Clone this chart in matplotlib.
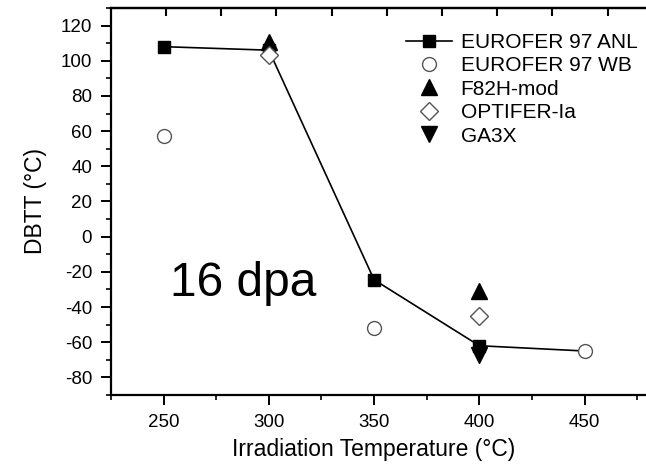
"""DBTT vs irradiation temperature at 16 dpa."""

import matplotlib
matplotlib.use("Agg")
from matplotlib import pyplot as plt
from matplotlib.ticker import MultipleLocator, FixedLocator, NullLocator
import matplotlib.transforms as mtransforms

plt.rcParams["font.family"] = ["Liberation Sans", "DejaVu Sans"]
plt.rcParams["axes.unicode_minus"] = False

# data
anl_temp = [250, 300, 350, 400, 450]
anl_dbtt = [108, 106, -24.5, -62, -65]
wb_temp = [250, 350, 450]
wb_dbtt = [57.5, -52, -65]
f82h_temp = [300, 400]
f82h_dbtt = [110.5, -31]
optifer_temp = [300, 400]
optifer_dbtt = [103, -45]
ga3x_temp = [400]
ga3x_dbtt = [-67.5]

# the top axis in the source has its own (slightly off) tick pitch
top_ticks = [251.1, 277.3, 303.4, 330.0, 356.1, 382.3, 408.4, 434.5, 461.1]

fig = plt.figure(figsize=(6.46, 4.66), dpi=100)
ax = fig.add_axes([0.1718, 0.1524, 0.896, 0.8305])

ax.plot(anl_temp, anl_dbtt, color="black", lw=1.2, marker="s", ms=8.5,
        markevery=[0, 1, 2, 3], label="EUROFER 97 ANL", zorder=3)
ax.plot(wb_temp, wb_dbtt, ls="none", marker="o", ms=10, mfc="white",
        mec="#555555", mew=1.0, label="EUROFER 97 WB", zorder=4)
ax.plot(f82h_temp, f82h_dbtt, ls="none", marker="^", ms=11, color="black",
        label="F82H-mod", zorder=3)
ax.plot(optifer_temp, optifer_dbtt, ls="none", marker="D", ms=9, mfc="white",
        mec="#555555", mew=1.0, label="OPTIFER-Ia", zorder=4)
ax.plot(ga3x_temp, ga3x_dbtt, ls="none", marker="v", ms=11, color="black",
        label="GA3X", zorder=3)

ax.set_xlim(225, 500)
ax.set_ylim(-90, 130)
ax.set_xticks([250, 300, 350, 400, 450])
ax.xaxis.set_minor_locator(MultipleLocator(25))
ax.yaxis.set_major_locator(MultipleLocator(20))
ax.yaxis.set_minor_locator(MultipleLocator(10))

for side in ["left", "bottom", "top"]:
    ax.spines[side].set_linewidth(1.6)
ax.spines["right"].set_visible(False)

ax.tick_params(which="major", direction="out", length=7, width=1.4,
               labelsize=13.5, pad=6.5, top=False, right=False)
ax.tick_params(which="minor", direction="out", length=3.5, width=1.2,
               top=False, right=False)

# inward ticks along the top edge
top = ax.twiny()
top.set_xlim(ax.get_xlim())
top.xaxis.set_major_locator(FixedLocator(top_ticks))
top.xaxis.set_minor_locator(NullLocator())
top.tick_params(axis="x", which="major", top=True, bottom=False,
                labeltop=False, labelbottom=False, direction="in",
                length=6, width=1.5, color="black")
for side in ["left", "bottom", "right"]:
    top.spines[side].set_visible(False)
top.spines["top"].set_linewidth(1.6)

ax.set_ylabel("DBTT (\u00b0C)", fontsize=16.5, labelpad=10)
ax.set_xlabel("Irradiation Temperature (\u00b0C)", fontsize=16.5)
trans = mtransforms.blended_transform_factory(ax.transData, ax.transAxes)
ax.xaxis.set_label_coords(350, -0.11, transform=trans)

ax.text(253, -33.5, "16 dpa", fontsize=34.5, ha="left", va="baseline")

ax.legend(loc="upper left", bbox_to_anchor=(406 / 646, (466 - 33) / 466),
          bbox_transform=fig.transFigure, frameon=False, fontsize=15,
          borderpad=0, borderaxespad=0, handlelength=2.2, handletextpad=0.42,
          labelspacing=0.21)

fig.savefig("out.png", dpi=100)
